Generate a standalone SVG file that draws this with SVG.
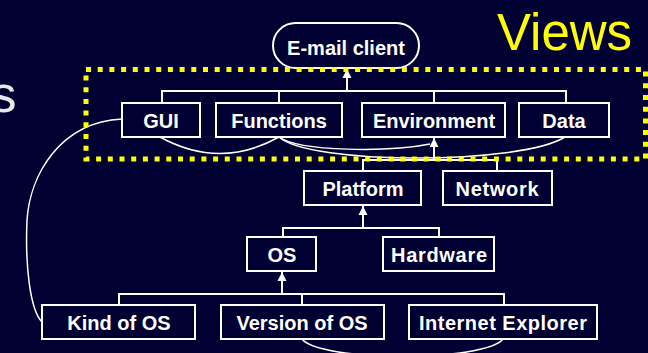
<svg xmlns="http://www.w3.org/2000/svg" width="648" height="353" viewBox="0 0 648 353">
<style>
.bg{fill:#000033}
.box{fill:#000033;stroke:#ffffff;stroke-width:2}
.lbl{fill:#ffffff;font-family:"Liberation Sans",Arial,sans-serif;font-weight:bold;font-size:20px;text-anchor:middle}
.tree{fill:none;stroke:#ffffff;stroke-width:2}
.curve{fill:none;stroke:#ffffff;stroke-width:1.5}
.view{fill:none;stroke:#ffff00;stroke-width:5;stroke-dasharray:5 6.7}
</style>
<defs>
<marker id="arr" markerUnits="userSpaceOnUse" markerWidth="10" markerHeight="10" refX="9" refY="5" orient="auto">
<path d="M0,0.5 L9,5 L0,9.5 z" fill="#ffffff"/>
</marker>
</defs>
<rect class="bg" x="0" y="0" width="648" height="353"/>
<text x="-9.5" y="112" fill="#e8e8e8" font-family="Liberation Sans, Arial, sans-serif" font-size="52">s</text>
<text x="497" y="50" fill="#ffff00" font-family="Liberation Sans, Arial, sans-serif" font-size="51">Views</text>
<g id="connectors">
<path class="tree" d="M162,103 V91 H566 V103 M279,91 V103 M434,91 V103"/>
<path class="tree" d="M347,91 V69" marker-end="url(#arr)"/>
<path class="tree" d="M363,171 V160 H497 V171"/>
<path class="tree" d="M434,160 V138" marker-end="url(#arr)"/>
<path class="tree" d="M283,237 V228 H439 V237"/>
<path class="tree" d="M363,228 V206" marker-end="url(#arr)"/>
<path class="tree" d="M119,305 V294 H504 V305 M302,294 V305"/>
<path class="tree" d="M282,294 V272" marker-end="url(#arr)"/>
<path class="curve" d="M160,137 Q220,170 279,137"/>
<path class="curve" d="M279,137 C300,152 390,152 430,144"/>
<path class="curve" d="M279,137 C310,165 520,165 565,137"/>
<path class="curve" d="M122,119 C60,122 30,175 27,220 C25,265 30,310 42,322"/>
<path class="curve" d="M302,339 C320,362 485,362 503,339"/>
</g>
<g id="email"><rect class="box" x="273" y="23" width="146" height="45" rx="22.5"/><text class="lbl" x="346" y="55">E-mail client</text></g>
<g id="gui"><rect class="box" x="122" y="103" width="78" height="34"/><text class="lbl" x="161" y="128">GUI</text></g>
<g id="functions"><rect class="box" x="216" y="103" width="126" height="34"/><text class="lbl" x="279" y="128">Functions</text></g>
<g id="environment"><rect class="box" x="362" y="103" width="143" height="34"/><text class="lbl" x="434" y="128">Environment</text></g>
<g id="data"><rect class="box" x="519" y="103" width="90" height="34"/><text class="lbl" x="564" y="128">Data</text></g>
<g id="platform"><rect class="box" x="304" y="171" width="117" height="34"/><text class="lbl" x="363" y="196">Platform</text></g>
<g id="network"><rect class="box" x="443" y="171" width="109" height="34"/><text class="lbl" x="497" y="196" textLength="83">Network</text></g>
<g id="os"><rect class="box" x="247" y="237" width="69" height="34"/><text class="lbl" x="282" y="262">OS</text></g>
<g id="hardware"><rect class="box" x="383" y="237" width="111" height="34"/><text class="lbl" x="439" y="262" textLength="96">Hardware</text></g>
<g id="kindofos"><rect class="box" x="42" y="305" width="153" height="34"/><text class="lbl" x="119" y="330">Kind of OS</text></g>
<g id="versionofos"><rect class="box" x="221" y="305" width="163" height="34"/><text class="lbl" x="302" y="330">Version of OS</text></g>
<g id="ie"><rect class="box" x="409" y="305" width="188" height="34"/><text class="lbl" x="503" y="330" textLength="168">Internet Explorer</text></g>
<rect id="views" class="view" x="86" y="69.5" width="559.5" height="89.5"/>
</svg>
